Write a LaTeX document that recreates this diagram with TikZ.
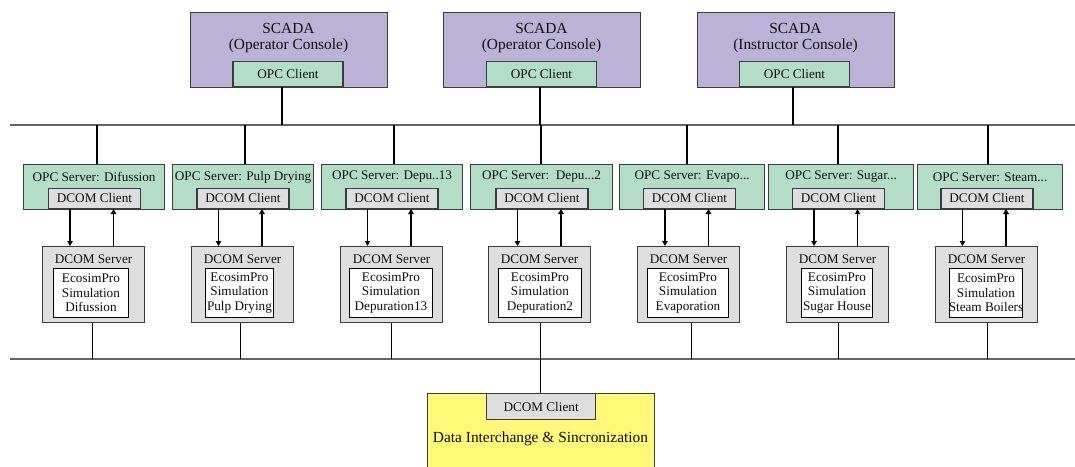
\documentclass[tikz,border=0pt]{standalone}
\usepackage{fontspec}
\setmainfont{Liberation Serif}
\usetikzlibrary{arrows.meta}
\definecolor{scadaC}{RGB}{186,179,215}
\definecolor{opcC}{RGB}{179,221,199}
\definecolor{grayC}{RGB}{222,222,222}
\definecolor{yelC}{RGB}{255,248,120}
\definecolor{edgeC}{RGB}{60,60,60}
\definecolor{busC}{RGB}{100,100,100}
\definecolor{txtC}{RGB}{15,15,15}
\begin{document}
\begin{tikzpicture}[x=1pt,y=-1pt,
  big/.style={font=\fontsize{15.4}{16.5}\selectfont, text=txtC, align=center, inner sep=0pt},
  small/.style={font=\fontsize{13.2}{14.5}\selectfont, text=txtC, align=center, inner sep=0pt},
  bx/.style={draw=edgeC, line width=1.2pt, inner sep=0pt},
  scada/.style={bx, fill=scadaC, minimum width=197pt, minimum height=75pt, anchor=north west},
  opcclient/.style={bx, small, fill=opcC, minimum width=110pt, minimum height=25pt, anchor=south},
  opcserver/.style={bx, fill=opcC, minimum height=45pt, anchor=north west},
  dcomclient/.style={bx, small, fill=grayC, minimum width=92pt, minimum height=20pt, anchor=south},
  dcomserver/.style={bx, fill=grayC, minimum width=102pt, minimum height=76pt, anchor=north west},
  inner/.style={draw=black, line width=0.9pt, fill=white, small, minimum height=49pt, anchor=north west},
  bus/.style={draw=busC, line width=1.4pt},
  drop/.style={draw=black, line width=1.8pt},
  thin/.style={draw=black, line width=0.9pt},
  mid/.style={draw=black, line width=1.3pt},
  arr/.style={draw=black, line width=1.9pt, -{Triangle[length=5pt,width=5.5pt]}},
  arrthin/.style={draw=black, line width=0.9pt, -{Triangle[length=5pt,width=5pt]}}
]
\useasboundingbox (0,0) rectangle (1075,466);
\clip (0,0) rectangle (1075,466);

% buses and reference heights
\coordinate (busTL) at (10,125);
\coordinate (busTR) at (1076,125);
\coordinate (busBL) at (10,359);
\coordinate (busBR) at (1076,359);
\coordinate (ty) at (0,177);
\coordinate (sy) at (0,259);

% SCADA boxes
\node[scada] (sc1) at (190,12) {};
\node[scada] (sc2) at (443,12) {};
\node[scada] (sc3) at (697,12) {};
\node[big] (sc1t) at (288.5,38) {SCADA\\(Operator Console)};
\node[big] (sc2t) at (541.5,38) {SCADA\\(Operator Console)};
\node[big] (sc3t) at (795.5,38) {SCADA\\(Instructor Console)};
\node[opcclient] (oc1) at (288,87) {OPC Client};
\node[opcclient] (oc2) at (541.5,87) {OPC Client};
\node[opcclient] (oc3) at (794.5,87) {OPC Client};

% OPC servers
\node[opcserver, minimum width=141pt] (o1) at (23,164) {};
\node[opcserver, minimum width=141pt] (o2) at (172,164) {};
\node[opcserver, minimum width=141pt] (o3) at (321,164) {};
\node[opcserver, minimum width=142pt] (o4) at (470,164) {};
\node[opcserver, minimum width=145pt] (o5) at (619,164) {};
\node[opcserver, minimum width=145pt] (o6) at (768,164) {};
\node[opcserver, minimum width=145pt] (o7) at (917,164) {};
\node[small] (o1t) at (o1.north |- ty) {OPC Server: Difussion};
\node[small] (o2t) at (o2.north |- ty) {OPC Server: Pulp Drying};
\node[small] (o3t) at (o3.north |- ty) {OPC Server: Depu..13};
\node[small] (o4t) at (o4.north |- ty) {OPC Server:\ \ Depu...2};
\node[small] (o5t) at (o5.north |- ty) {OPC Server: Evapo...};
\node[small] (o6t) at (o6.north |- ty) {OPC Server: Sugar...};
\node[small] (o7t) at (o7.north |- ty) {OPC Server: Steam...};

% DCOM clients
\node[dcomclient] (c1) at (94.5,209) {DCOM Client};
\node[dcomclient] (c2) at (243,209) {DCOM Client};
\node[dcomclient] (c3) at (392,209) {DCOM Client};
\node[dcomclient] (c4) at (542,209) {DCOM Client};
\node[dcomclient] (c5) at (689.5,209) {DCOM Client};
\node[dcomclient] (c6) at (838.5,209) {DCOM Client};
\node[dcomclient] (c7) at (987,209) {DCOM Client};

% DCOM servers
\node[dcomserver] (s1) at (42,246) {};
\node[dcomserver] (s2) at (191,246) {};
\node[dcomserver] (s3) at (340,246) {};
\node[dcomserver] (s4) at (488,246) {};
\node[dcomserver] (s5) at (637,246) {};
\node[dcomserver] (s6) at (786,246) {};
\node[dcomserver] (s7) at (935,246) {};
\foreach \i in {1,...,7}{
  \node[small] (s\i t) at (s\i.north |- sy) {DCOM Server};
}
\node[inner, minimum width=75pt] (e1) at (53,268) {EcosimPro\\Simulation\\Difussion};
\node[inner, minimum width=68pt] (e2) at (205,268) {EcosimPro\\Simulation\\Pulp Drying};
\node[inner, minimum width=83pt] (e3) at (349,268) {EcosimPro\\Simulation\\Depuration13};
\node[inner, minimum width=83pt] (e4) at (498,268) {EcosimPro\\Simulation\\Depuration2};
\node[inner, minimum width=81pt] (e5) at (647,268) {EcosimPro\\Simulation\\Evaporation};
\node[inner, minimum width=71pt] (e6) at (801,268) {EcosimPro\\Simulation\\Sugar House};
\node[inner, minimum width=73pt] (e7) at (949,268) {EcosimPro\\Simulation\\\makebox[60pt][c]{Steam Boilers}};

% Data interchange
\node[bx, fill=yelC, minimum width=227pt, minimum height=90pt, anchor=north west] (di) at (427,393) {};
\node[bx, small, fill=grayC, minimum width=109pt, minimum height=26pt, anchor=north west] (dc) at (486,393) {DCOM Client};
\node[big] (dit) at (540.5,439) {Data Interchange \& Sincronization};

% buses
\draw[bus] (busTL) -- (busTR);
\draw[bus] (busBL) -- (busBR);

% SCADA connectors
\draw[drop] ([xshift=-6pt]oc1.south) -- ([xshift=-6pt]oc1.south |- busTL);
\draw[drop] ([xshift=-1.5pt]oc2.south) -- ([xshift=-1.5pt]oc2.south |- busTL);
\draw[drop] ([xshift=-1.5pt]oc3.south) -- ([xshift=-1.5pt]oc3.south |- busTL);

% OPC server drops
\draw[drop] ([xshift=2.5pt]o1.north) -- ([xshift=2.5pt]o1.north |- busTL);
\draw[drop] ([xshift=1.5pt]o2.north) -- ([xshift=1.5pt]o2.north |- busTL);
\draw[drop] ([xshift=1.5pt]o3.north) -- ([xshift=1.5pt]o3.north |- busTL);
\draw[drop] ([xshift=-1pt]o4.north) -- ([xshift=-1pt]o4.north |- busTL);
\draw[drop] ([xshift=-5.5pt]o5.north) -- ([xshift=-5.5pt]o5.north |- busTL);
\draw[drop] ([xshift=-3.5pt]o6.north) -- ([xshift=-3.5pt]o6.north |- busTL);
\draw[drop] ([xshift=-2.5pt]o7.north) -- ([xshift=-2.5pt]o7.north |- busTL);

% client/server arrows
\draw[arr]     ([xshift=-24.5pt]c1.south) -- ([xshift=-24.5pt]c1.south |- s1.north);
\draw[arr]     ([xshift=19pt]c1.south |- s1.north) -- ([xshift=19pt]c1.south);
\draw[arr]     ([xshift=-24.5pt]c2.south) -- ([xshift=-24.5pt]c2.south |- s2.north);
\draw[arr]     ([xshift=19pt]c2.south |- s2.north) -- ([xshift=19pt]c2.south);
\draw[arrthin] ([xshift=-24.5pt]c3.south) -- ([xshift=-24.5pt]c3.south |- s3.north);
\draw[arr]     ([xshift=19pt]c3.south |- s3.north) -- ([xshift=19pt]c3.south);
\draw[arr]     ([xshift=-24.5pt]c4.south) -- ([xshift=-24.5pt]c4.south |- s4.north);
\draw[arr]     ([xshift=19pt]c4.south |- s4.north) -- ([xshift=19pt]c4.south);
\draw[arr]     ([xshift=-24.5pt]c5.south) -- ([xshift=-24.5pt]c5.south |- s5.north);
\draw[arr]     ([xshift=19pt]c5.south |- s5.north) -- ([xshift=19pt]c5.south);
\draw[arr]     ([xshift=-24.5pt]c6.south) -- ([xshift=-24.5pt]c6.south |- s6.north);
\draw[arrthin] ([xshift=19pt]c6.south |- s6.north) -- ([xshift=19pt]c6.south);
\draw[arr]     ([xshift=-24.5pt]c7.south) -- ([xshift=-24.5pt]c7.south |- s7.north);
\draw[arr]     ([xshift=19pt]c7.south |- s7.north) -- ([xshift=19pt]c7.south);

% server to bottom bus
\draw[thin] ([xshift=-1pt]s1.south) -- ([xshift=-1pt]s1.south |- busBL);
\draw[thin] ([xshift=-2pt]s2.south) -- ([xshift=-2pt]s2.south |- busBL);
\draw[thin] (s3.south) -- (s3.south |- busBL);
\draw[mid] ([xshift=1pt]s4.south) -- ([xshift=1pt]s4.south |- busBL);
\draw[mid] ([xshift=3pt]s5.south) -- ([xshift=3pt]s5.south |- busBL);
\draw[mid] ([xshift=1pt]s6.south) -- ([xshift=1pt]s6.south |- busBL);
\draw[mid] ([xshift=1pt]s7.south) -- ([xshift=1pt]s7.south |- busBL);

% bottom bus to data interchange
\draw[mid] ([xshift=-0.5pt]dc.north) -- ([xshift=-0.5pt]dc.north |- busBL);
\end{tikzpicture}
\end{document}
